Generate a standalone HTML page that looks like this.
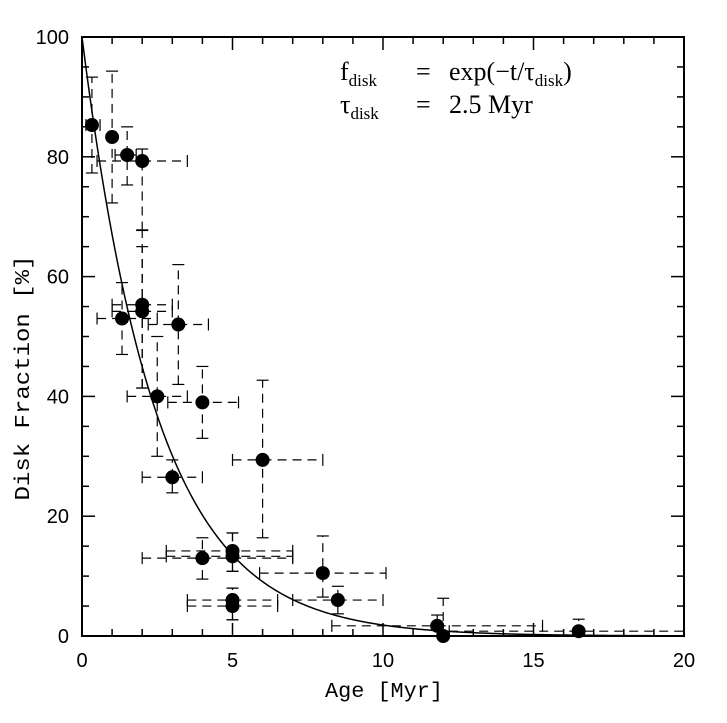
<!DOCTYPE html>
<html><head><meta charset="utf-8"><style>
html,body{margin:0;padding:0;background:#fff;}
svg{display:block;}
</style></head><body>
<svg id="chart" width="727" height="723" viewBox="0 0 727 723" xmlns="http://www.w3.org/2000/svg">
<rect x="0" y="0" width="727" height="723" fill="#fff"/>
<g id="errs"></g>
<path id="curve" fill="none" stroke="#000" stroke-width="1.5"/>
<g id="pts"></g>
<g id="axes"></g>
<text x="384" y="697" font-family="Liberation Mono, monospace" font-size="21" text-anchor="middle" textLength="118" lengthAdjust="spacingAndGlyphs">Age [Myr]</text>
<text transform="translate(29,378) rotate(-90)" font-family="Liberation Mono, monospace" font-size="21" text-anchor="middle" textLength="245" lengthAdjust="spacingAndGlyphs">Disk Fraction [%]</text>
<g font-family="Liberation Serif, serif" font-size="26">
<text x="340" y="80">f<tspan font-size="17" dy="6">disk</tspan></text>
<text x="416" y="80">=</text>
<text x="449" y="80">exp(−t/τ<tspan font-size="17" dy="6">disk</tspan><tspan dy="-6">)</tspan></text>
<text x="340" y="113">τ<tspan font-size="17" dy="6">disk</tspan></text>
<text x="416" y="113">=</text>
<text x="449" y="113">2.5 Myr</text>
</g>
</svg>
<script>
const ages   = [0.33, 1.0, 1.5, 2.0, 1.33, 2.0, 2.0, 3.2, 2.5, 4.0, 3.0, 6.0, 4.0, 5.0, 5.0, 5.0, 5.0, 8.0, 8.5, 11.8, 12.0, 16.5];
const fracs  = [85.3, 83.3, 80.3, 79.3, 53.0, 55.3, 54.2, 52.0, 40.0, 39.0, 26.5, 29.4, 13.0, 14.2, 13.3, 6.0, 5.0, 10.5, 6.0, 1.7, 0.0, 0.8];
const ageLo  = [0.13, 1.0, 1.1, 0.5, 0.5, 1.0, 1.0, 2.2, 1.5, 2.85, 2.0, 5.0, 2.0, 2.8, 2.8, 3.5, 3.5, 5.9, 7.0, 8.3, 12.0, 12.2];
const ageHi  = [0.6, 1.0, 1.8, 3.5, 2.5, 3.0, 3.0, 4.2, 3.5, 5.2, 4.0, 8.0, 7.0, 7.0, 7.0, 6.5, 6.5, 10.1, 10.0, 15.3, 12.0, 20.0];
const fracLo = [77.3, 72.3, 75.3, 67.7, 47.0, 41.4, 41.4, 42.0, 30.0, 33.0, 23.9, 16.4, 9.5, 10.8, 10.8, 2.7, 2.7, 6.5, 3.7, 0.0, 0.0, 0.0];
const fracHi = [93.3, 94.3, 85.0, 81.3, 59.0, 67.8, 65.0, 62.0, 50.0, 45.0, 29.4, 42.7, 16.4, 17.2, 17.2, 8.0, 8.0, 16.7, 8.3, 3.5, 6.3, 2.8];
const xTicks = [0, 5, 10, 15, 20];
const yTicks = [0, 20, 40, 60, 80, 100];
const tau = 2.5;

const X0=82, X1=684, Y0=636, Y1=37;
const sx = t => X0 + (t-0)/(20-0)*(X1-X0);
const sy = f => Y0 - (f-0)/(100-0)*(Y0-Y1);
const NS="http://www.w3.org/2000/svg";
function mk(tag, attrs, parent){const e=document.createElementNS(NS,tag);for(const k in attrs)e.setAttribute(k,attrs[k]);parent.appendChild(e);return e;}

const errs=document.getElementById('errs'), pts=document.getElementById('pts'), axes=document.getElementById('axes');
const dash={stroke:'#000','stroke-width':1.2,'stroke-dasharray':'9,6',fill:'none'};
for(let i=0;i<ages.length;i++){
  const cx=sx(ages[i]), cy=sy(fracs[i]);
  const g=mk('g',{},errs);
  
  
  if(ageHi[i]>ageLo[i]){
    mk('line',Object.assign({x1:sx(ageLo[i]),y1:cy,x2:sx(ageHi[i]),y2:cy},dash),g);
    mk('line',{x1:sx(ageLo[i]),y1:cy-6,x2:sx(ageLo[i]),y2:cy+6,stroke:'#000','stroke-width':1.2},g);
    mk('line',{x1:sx(ageHi[i]),y1:cy-6,x2:sx(ageHi[i]),y2:cy+6,stroke:'#000','stroke-width':1.2},g);
  }
  if(fracHi[i]>fracLo[i]){
    mk('line',Object.assign({x1:cx,y1:sy(fracLo[i]),x2:cx,y2:sy(fracHi[i])},dash),g);
    mk('line',{x1:cx-6,y1:sy(fracLo[i]),x2:cx+6,y2:sy(fracLo[i]),stroke:'#000','stroke-width':1.2},g);
    mk('line',{x1:cx-6,y1:sy(fracHi[i]),x2:cx+6,y2:sy(fracHi[i]),stroke:'#000','stroke-width':1.2},g);
  }
  const c=mk('circle',{cx:cx,cy:cy,r:7,fill:'#000'},pts);
  
  
}
let d='';
for(let t=0;t<=20.001;t+=0.05){d+=(t===0?'M':'L')+sx(t).toFixed(2)+','+sy(100*Math.exp(-t/tau)).toFixed(2);}
document.getElementById('curve').setAttribute('d',d);

const frame=mk('rect',{x:X0,y:Y1,width:X1-X0,height:Y0-Y1,fill:'none',stroke:'#000','stroke-width':2},axes);


for(let t=0;t<=20;t+=1){
  const L=(t%5===0)?13:7, x=sx(t);
  mk('line',{x1:x,y1:Y0,x2:x,y2:Y0-L,stroke:'#000','stroke-width':1.5},axes);
  mk('line',{x1:x,y1:Y1,x2:x,y2:Y1+L,stroke:'#000','stroke-width':1.5},axes);
}
for(let f=0;f<=100;f+=5){
  const L=(f%20===0)?13:7, y=sy(f);
  mk('line',{x1:X0,y1:y,x2:X0+L,y2:y,stroke:'#000','stroke-width':1.5},axes);
  mk('line',{x1:X1,y1:y,x2:X1-L,y2:y,stroke:'#000','stroke-width':1.5},axes);
}
xTicks.forEach(t=>{
  const tx=mk('text',{x:sx(t),y:Y0+31,'text-anchor':'middle','font-family':'Liberation Sans, sans-serif','font-size':20},axes);
  
  
  tx.textContent=t;
});
yTicks.forEach(f=>{
  const tx=mk('text',{x:X0-13,y:sy(f)+7,'text-anchor':'end','font-family':'Liberation Sans, sans-serif','font-size':20},axes);
  
  
  tx.textContent=f;
});
</script>
</body></html>
